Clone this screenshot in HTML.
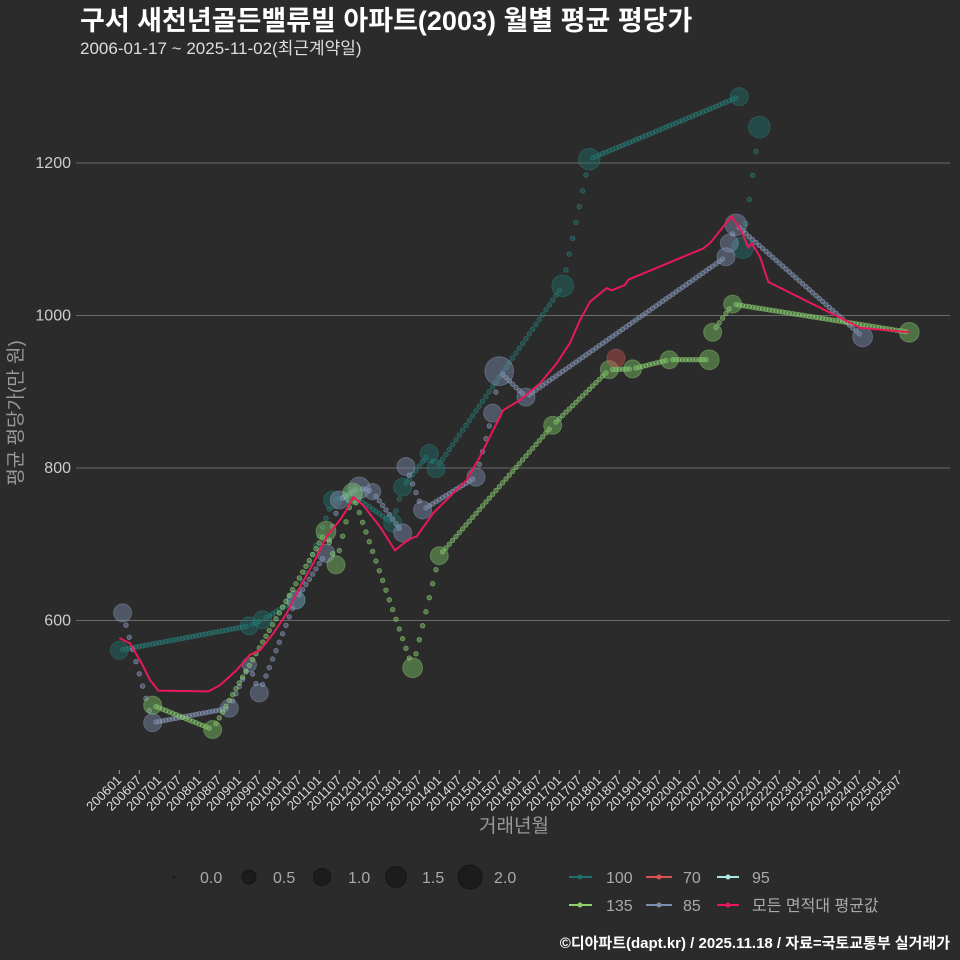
<!DOCTYPE html>
<html><head><meta charset="utf-8">
<style>
html,body{margin:0;padding:0;background:#2b2b2b;}
svg{display:block;font-family:"Liberation Sans","Noto Sans CJK KR",sans-serif;}
</style></head>
<body>
<svg id="chart" width="960" height="960" viewBox="0 0 960 960" xmlns="http://www.w3.org/2000/svg">
<rect width="960" height="960" fill="#2b2b2b"/>
<text x="80" y="30" fill="#ffffff" font-size="27" font-weight="bold">구서 새천년골든밸류빌 아파트(2003) 월별 평균 평당가</text>
<text x="80" y="54" fill="#dddddd" font-size="17">2006-01-17 ~ 2025-11-02(최근계약일)</text>
<text transform="translate(22,413) rotate(-90)" text-anchor="middle" fill="#999" font-size="19">평균 평당가(만 원)</text>
<text x="514" y="832" text-anchor="middle" fill="#999" font-size="19">거래년월</text>
<g id="grid"></g><g id="xaxis"></g><g id="series"></g>
<g id="legend">
 <circle cx="174" cy="877" r="1.5" fill="#1c1c1c"/>
 <text x="200" y="883" fill="#aaa" font-size="16">0.0</text>
 <circle cx="249" cy="877" r="7" fill="#1c1c1c" stroke="#151515"/>
 <text x="273" y="883" fill="#aaa" font-size="16">0.5</text>
 <circle cx="322" cy="877" r="8.5" fill="#1c1c1c" stroke="#151515"/>
 <text x="348" y="883" fill="#aaa" font-size="16">1.0</text>
 <circle cx="396" cy="877" r="10.5" fill="#1c1c1c" stroke="#151515"/>
 <text x="422" y="883" fill="#aaa" font-size="16">1.5</text>
 <circle cx="470" cy="877" r="12" fill="#1c1c1c" stroke="#151515"/>
 <text x="494" y="883" fill="#aaa" font-size="16">2.0</text>
 <g><line x1="569" y1="877" x2="592" y2="877" stroke="#1f6e6a" stroke-width="2"/><circle cx="580" cy="877" r="2.5" fill="#1f6e6a"/><text x="606" y="883" fill="#aaa" font-size="16">100</text></g>
 <g><line x1="646" y1="877" x2="672" y2="877" stroke="#d9534f" stroke-width="2"/><circle cx="659" cy="877" r="2.5" fill="#d9534f"/><text x="683" y="883" fill="#aaa" font-size="16">70</text></g>
 <g><line x1="717" y1="877" x2="739" y2="877" stroke="#a8e6e0" stroke-width="2"/><circle cx="728" cy="877" r="2.5" fill="#a8e6e0"/><text x="752" y="883" fill="#aaa" font-size="16">95</text></g>
 <g><line x1="569" y1="905" x2="592" y2="905" stroke="#8fd16a" stroke-width="2"/><circle cx="580" cy="905" r="2.5" fill="#8fd16a"/><text x="606" y="911" fill="#aaa" font-size="16">135</text></g>
 <g><line x1="646" y1="905" x2="672" y2="905" stroke="#7d8fb0" stroke-width="2"/><circle cx="659" cy="905" r="2.5" fill="#7d8fb0"/><text x="683" y="911" fill="#aaa" font-size="16">85</text></g>
 <g><line x1="717" y1="905" x2="739" y2="905" stroke="#e8195a" stroke-width="2"/><circle cx="728" cy="905" r="2.5" fill="#e8195a"/><text x="752" y="911" fill="#aaa" font-size="16">모든 면적대 평균값</text></g>
</g>
<text x="950" y="948" text-anchor="end" fill="#ffffff" font-size="15" font-weight="bold">©디아파트(dapt.kr) / 2025.11.18 / 자료=국토교통부 실거래가</text>
</svg>
<script>
// months since 2006-01
const yTicks = [600, 800, 1000, 1200];
const xTickLabels = [];
for (let y = 2006; y <= 2025; y++) { xTickLabels.push(y + "01"); xTickLabels.push(y + "07"); }

const s100Months = [0,39,43,53,64,70,82,85,93,95,133,141,186,187,192];
const s100Values = [561,593,601,627,758,764,728,775,819,799,1039,1205,1287,1089,1247];
const s100Sizes  = [1,1,1,1,1,1,1,1,1,1,1.2,1.2,1,1.2,1.2];

const s85Months = [1,10,33,39,42,53,62,66,72,76,85,86,91,107,112,114,122,182,183,185,223];
const s85Values = [610,466,485,542,505,627,688,758,774,769,715,802,745,788,872,927,893,1077,1095,1119,972];
const s85Sizes  = [1,1,1,0.8,1,1,1,1,1.2,0.9,1,1,1,1,1,1.6,1,1,1,1.2,1.1];

const s135Months = [10,28,62,65,70,88,96,130,147,154,165,177,178,184,237];
const s135Values = [489,457,717,673,767,538,685,856,929,930,942,942,978,1015,978];
const s135Sizes  = [1,1,1.1,1,1.1,1.1,1,1,1,1,1,1.1,1,1,1.1];

const s70Months = [149];
const s70Values = [944];
const s70Sizes  = [1];

const avgMonths = [0,3.2,6.7,9.2,11.7,26.7,30.2,35.2,39.2,42.2,46.2,50.2,54.2,58.2,62.2,66.2,68.2,70.2,73.2,78.2,82.7,85.2,87.7,89.2,94.2,100.2,104.2,108.2,112.2,115.2,120.2,126.2,131.2,135.2,138.2,141.2,146.2,147.7,151.7,152.7,175.2,177.2,183.7,186.7,188.7,189.7,192.2,194.7,222.2,237.2];
const avgValues = [577,570,544,522,508,507,515,535,555,561,583,609,644,675,710,732,745,762,751,723,692,701,708,710,741,767,784,815,850,876,889,911,937,964,994,1018,1036,1033,1040,1047,1088,1095,1130,1110,1089,1095,1077,1044,984,978];

const NS = "http://www.w3.org/2000/svg";
const xScale = m => 119.3 + m * 20 / 6;
const yScale = v => 315.5 - (v - 1000) * 0.7625;
function mk(tag, attrs, parent) {
  const e = document.createElementNS(NS, tag);
  for (const k in attrs) e.setAttribute(k, attrs[k]);
  parent.appendChild(e); return e;
}
const grid = document.getElementById('grid');
yTicks.forEach(t => {
  const l = mk('line', {x1:76, x2:950, y1:yScale(t), y2:yScale(t), stroke:'#6a6a6a', 'stroke-width':1}, grid);
  
  
  const tx = mk('text', {x:71, y:yScale(t)+5, 'text-anchor':'end', fill:'#cccccc', 'font-size':16}, grid);
  tx.textContent = t;
  
  
});
const xa = document.getElementById('xaxis');
xTickLabels.forEach((lab, i) => {
  const x = xScale(i * 6);
  const tk = mk('line', {x1:x, x2:x, y1:770, y2:774, stroke:'#aaa'}, xa);
  
  
  const t = mk('text', {transform:`translate(${x+3},781) rotate(-45)`, 'text-anchor':'end', fill:'#dddddd', 'font-size':13}, xa);
  t.textContent = lab;
  
  
});
const sg = document.getElementById('series');
function drawSeries(name, months, values, sizes, color, light) {
  const g = mk('g', {}, sg);
  
  
  for (let i = 0; i + 1 < months.length; i++) {
    const m0 = months[i], m1 = months[i+1];
    for (let m = m0 + 1; m < m1; m++) {
      const v = values[i] + (values[i+1]-values[i]) * (m - m0) / (m1 - m0);
      const d = mk('circle', {cx:xScale(m), cy:yScale(v), r:2.3, fill:color, 'fill-opacity':0.5, stroke:light, 'stroke-opacity':0.55, 'stroke-width':0.8}, g);
      
      
    }
  }
  months.forEach((m, i) => {
    const c = mk('circle', {cx:xScale(m), cy:yScale(values[i]), r:9 * sizes[i], fill:color, 'fill-opacity':0.45, stroke:light, 'stroke-opacity':0.35, 'stroke-width':1}, g);
    
    
  });
}
drawSeries('100', s100Months, s100Values, s100Sizes, '#1f6e6a', '#2f8e88');
drawSeries('85', s85Months, s85Values, s85Sizes, '#7d8fb0', '#9aaccc');
drawSeries('135', s135Months, s135Values, s135Sizes, '#7cc466', '#9be080');
drawSeries('70', s70Months, s70Values, s70Sizes, '#c0504d', '#d9706d');
const pts = avgMonths.map((m, i) => xScale(m).toFixed(1) + ',' + yScale(avgValues[i]).toFixed(1)).join(' ');
const avg = mk('polyline', {points:pts, fill:'none', stroke:'#e8195a', 'stroke-width':2, 'stroke-linejoin':'round'}, sg);


</script>
</body></html>
